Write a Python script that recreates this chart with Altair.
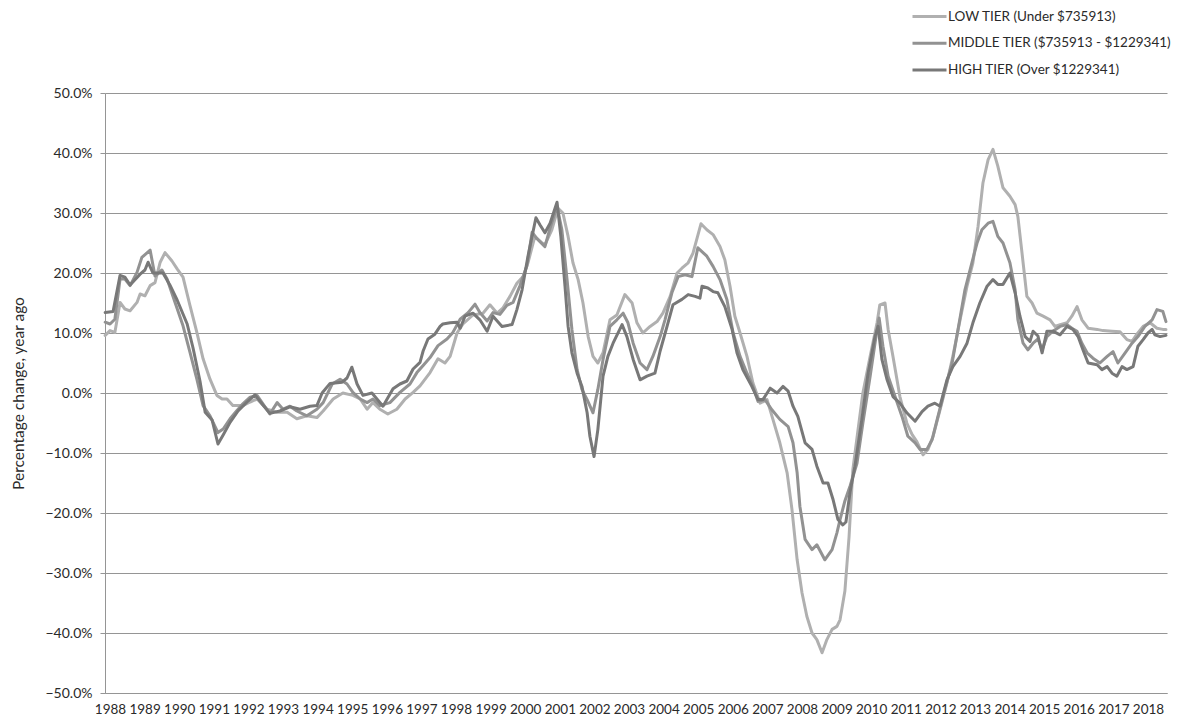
import altair as alt
import pandas as pd

tiers = [
    "LOW TIER (Under $735913)",
    "MIDDLE TIER ($735913 - $1229341)",
    "HIGH TIER (Over $1229341)",
]
tier_colors = ["#b0b0b0", "#929292", "#787878"]

low_year = [1987.86, 1988.00, 1988.14, 1988.29, 1988.43, 1988.58, 1988.78, 1988.87, 1989.01, 1989.16, 1989.30, 1989.45, 1989.59, 1989.79, 1989.94, 1990.11, 1990.31, 1990.51, 1990.69, 1990.89, 1991.09, 1991.24, 1991.38, 1991.55, 1991.84, 1992.05, 1992.25, 1992.54, 1992.83, 1993.12, 1993.40, 1993.69, 1993.98, 1994.16, 1994.45, 1994.73, 1995.02, 1995.23, 1995.43, 1995.60, 1995.80, 1996.03, 1996.29, 1996.53, 1996.76, 1996.96, 1997.25, 1997.48, 1997.68, 1997.83, 1998.03, 1998.20, 1998.49, 1998.78, 1998.98, 1999.19, 1999.36, 1999.56, 1999.76, 1999.94, 2000.08, 2000.28, 2000.49, 2000.57, 2000.77, 2000.95, 2001.09, 2001.24, 2001.38, 2001.53, 2001.67, 2001.82, 2001.96, 2002.10, 2002.25, 2002.45, 2002.65, 2002.88, 2003.09, 2003.23, 2003.40, 2003.61, 2003.81, 2003.98, 2004.19, 2004.39, 2004.53, 2004.71, 2004.85, 2005.08, 2005.25, 2005.43, 2005.63, 2005.77, 2005.92, 2006.06, 2006.21, 2006.41, 2006.58, 2006.79, 2006.99, 2007.16, 2007.36, 2007.57, 2007.71, 2007.86, 2008.00, 2008.14, 2008.29, 2008.43, 2008.58, 2008.72, 2008.87, 2009.01, 2009.10, 2009.24, 2009.36, 2009.47, 2009.62, 2009.76, 2009.97, 2010.17, 2010.25, 2010.40, 2010.49, 2010.63, 2010.83, 2011.03, 2011.18, 2011.32, 2011.50, 2011.64, 2011.79, 2011.99, 2012.19, 2012.36, 2012.57, 2012.77, 2012.94, 2013.09, 2013.23, 2013.38, 2013.52, 2013.66, 2013.81, 2014.01, 2014.16, 2014.24, 2014.36, 2014.50, 2014.65, 2014.79, 2014.97, 2015.17, 2015.31, 2015.46, 2015.66, 2015.80, 2015.95, 2016.09, 2016.27, 2016.53, 2016.70, 2016.96, 2017.19, 2017.39, 2017.54, 2017.68, 2017.86, 2018.06, 2018.26, 2018.43, 2018.52]
low_val = [9.6, 10.4, 10.1, 15.1, 14.0, 13.7, 15.1, 16.5, 16.2, 17.9, 18.4, 21.8, 23.4, 22.0, 20.7, 19.3, 14.6, 10.1, 5.7, 2.3, -0.4, -1.0, -1.0, -2.1, -2.1, -1.5, -1.0, -2.7, -3.2, -3.2, -4.3, -3.8, -4.1, -3.0, -1.0, 0.0, -0.4, -1.0, -2.7, -1.6, -2.7, -3.5, -2.7, -1.0, 0.1, 1.2, 3.4, 5.7, 5.0, 6.1, 10.0, 11.5, 13.0, 13.3, 14.7, 13.3, 14.2, 16.1, 18.3, 19.4, 21.7, 26.1, 25.0, 24.7, 27.2, 30.8, 30.0, 26.1, 21.7, 18.9, 15.0, 9.4, 6.1, 5.0, 6.7, 12.2, 13.0, 16.4, 15.0, 11.7, 10.0, 11.1, 11.9, 13.3, 16.1, 20.0, 20.8, 21.7, 23.3, 28.2, 27.2, 26.4, 24.4, 22.2, 17.8, 12.8, 10.0, 6.1, 1.7, -1.7, -1.1, -4.4, -8.3, -13.3, -19.4, -27.8, -33.3, -37.2, -40.0, -41.1, -43.3, -41.1, -39.4, -38.9, -37.8, -33.0, -24.0, -12.8, -6.1, 0.0, 6.1, 11.7, 14.7, 15.0, 10.6, 6.1, -0.6, -5.0, -6.9, -8.1, -10.3, -9.4, -7.2, -2.8, 1.7, 6.1, 12.2, 17.8, 21.7, 27.8, 35.0, 38.9, 40.6, 37.8, 34.2, 32.8, 31.4, 29.4, 23.3, 16.1, 15.0, 13.3, 12.8, 12.2, 11.1, 11.4, 11.7, 12.8, 14.4, 12.2, 10.8, 10.6, 10.4, 10.3, 10.2, 8.9, 8.6, 9.8, 11.1, 11.7, 10.8, 10.6, 10.6]

mid_year = [1987.86, 1988.00, 1988.14, 1988.29, 1988.43, 1988.58, 1988.78, 1988.92, 1989.16, 1989.30, 1989.50, 1989.65, 1989.88, 1990.11, 1990.31, 1990.51, 1990.69, 1990.89, 1991.12, 1991.27, 1991.47, 1991.67, 1991.84, 1992.05, 1992.25, 1992.42, 1992.62, 1992.83, 1993.00, 1993.20, 1993.40, 1993.69, 1993.98, 1994.16, 1994.42, 1994.65, 1994.85, 1995.02, 1995.23, 1995.43, 1995.60, 1995.80, 1996.09, 1996.38, 1996.67, 1996.87, 1997.05, 1997.25, 1997.48, 1997.74, 1997.91, 1998.12, 1998.35, 1998.55, 1998.69, 1998.90, 1999.07, 1999.27, 1999.47, 1999.65, 1999.85, 2000.05, 2000.20, 2000.34, 2000.57, 2000.72, 2000.92, 2001.06, 2001.21, 2001.35, 2001.50, 2001.64, 2001.79, 2001.96, 2002.10, 2002.25, 2002.45, 2002.65, 2002.83, 2002.97, 2003.12, 2003.32, 2003.52, 2003.69, 2003.90, 2004.04, 2004.24, 2004.42, 2004.62, 2004.82, 2004.99, 2005.25, 2005.43, 2005.63, 2005.83, 2006.01, 2006.21, 2006.41, 2006.58, 2006.73, 2006.93, 2007.13, 2007.36, 2007.60, 2007.74, 2007.86, 2007.94, 2008.09, 2008.29, 2008.43, 2008.66, 2008.87, 2009.01, 2009.10, 2009.24, 2009.39, 2009.59, 2009.76, 2009.97, 2010.17, 2010.23, 2010.34, 2010.49, 2010.69, 2010.89, 2011.06, 2011.27, 2011.41, 2011.61, 2011.76, 2011.93, 2012.13, 2012.34, 2012.51, 2012.71, 2012.91, 2013.06, 2013.20, 2013.38, 2013.52, 2013.66, 2013.81, 2014.01, 2014.16, 2014.24, 2014.39, 2014.53, 2014.68, 2014.82, 2014.94, 2015.08, 2015.25, 2015.46, 2015.66, 2015.80, 2015.95, 2016.09, 2016.24, 2016.41, 2016.61, 2016.82, 2016.99, 2017.13, 2017.34, 2017.54, 2017.71, 2017.91, 2018.12, 2018.26, 2018.43, 2018.52]
mid_val = [11.8, 11.5, 12.3, 19.0, 19.0, 17.9, 20.1, 22.6, 23.8, 19.5, 20.5, 19.0, 15.1, 11.2, 6.8, 2.3, -2.1, -3.8, -6.6, -6.0, -4.3, -2.9, -1.8, -0.7, -0.4, -1.8, -3.5, -1.6, -2.7, -2.2, -3.0, -3.8, -2.7, -1.6, 1.5, 2.3, 1.5, 0.1, -1.0, -1.6, -1.0, -2.1, -1.6, 0.1, 1.5, 3.4, 4.6, 5.9, 7.9, 9.0, 10.1, 12.3, 13.4, 14.8, 13.4, 12.0, 13.4, 13.1, 14.6, 15.1, 17.9, 21.2, 26.8, 25.7, 24.4, 27.5, 31.1, 27.2, 18.9, 10.6, 3.9, 0.6, -1.1, -3.3, 0.6, 5.6, 11.1, 12.2, 13.3, 11.7, 8.3, 5.0, 3.9, 6.1, 9.4, 12.2, 16.7, 19.4, 19.7, 19.4, 24.2, 22.8, 21.1, 18.9, 15.6, 10.0, 6.1, 3.3, 1.1, -1.4, -1.1, -2.8, -4.4, -5.6, -8.3, -13.3, -18.9, -24.4, -26.1, -25.3, -27.8, -26.1, -23.3, -21.1, -18.0, -15.5, -11.7, -5.0, 2.8, 10.6, 12.5, 7.8, 2.8, -0.6, -3.9, -7.2, -8.3, -9.4, -9.4, -7.8, -3.9, 0.6, 5.0, 10.6, 17.2, 21.7, 25.0, 27.2, 28.3, 28.6, 26.1, 25.0, 21.7, 17.2, 12.2, 8.3, 7.2, 8.3, 9.0, 7.2, 9.4, 10.3, 11.1, 11.4, 10.8, 10.3, 8.3, 6.7, 5.8, 5.0, 6.1, 6.9, 5.0, 6.7, 8.3, 9.4, 11.1, 12.2, 13.9, 13.6, 11.9]

high_year = [1987.86, 1988.09, 1988.29, 1988.43, 1988.58, 1988.87, 1989.01, 1989.10, 1989.24, 1989.53, 1989.73, 1989.94, 1990.23, 1990.40, 1990.60, 1990.75, 1990.95, 1991.12, 1991.27, 1991.47, 1991.70, 1991.96, 1992.19, 1992.42, 1992.62, 1992.91, 1993.20, 1993.49, 1993.78, 1993.98, 1994.13, 1994.36, 1994.71, 1994.85, 1994.99, 1995.14, 1995.31, 1995.57, 1995.89, 1996.01, 1996.18, 1996.38, 1996.58, 1996.76, 1996.96, 1997.05, 1997.19, 1997.39, 1997.54, 1997.62, 1997.83, 1998.03, 1998.12, 1998.26, 1998.49, 1998.69, 1998.90, 1999.07, 1999.33, 1999.62, 1999.76, 1999.91, 2000.08, 2000.31, 2000.43, 2000.57, 2000.72, 2000.92, 2001.03, 2001.15, 2001.24, 2001.35, 2001.50, 2001.64, 2001.79, 2001.87, 2001.99, 2002.10, 2002.25, 2002.39, 2002.54, 2002.80, 2002.94, 2003.12, 2003.32, 2003.52, 2003.75, 2003.90, 2004.10, 2004.27, 2004.53, 2004.71, 2004.91, 2005.05, 2005.11, 2005.28, 2005.43, 2005.57, 2005.77, 2005.98, 2006.12, 2006.29, 2006.55, 2006.73, 2006.87, 2007.08, 2007.28, 2007.45, 2007.60, 2007.74, 2007.88, 2008.09, 2008.29, 2008.43, 2008.61, 2008.75, 2008.90, 2009.04, 2009.18, 2009.27, 2009.39, 2009.53, 2009.73, 2009.91, 2010.11, 2010.20, 2010.31, 2010.46, 2010.63, 2010.83, 2011.03, 2011.27, 2011.47, 2011.64, 2011.84, 2011.99, 2012.19, 2012.36, 2012.57, 2012.77, 2012.94, 2013.14, 2013.35, 2013.52, 2013.66, 2013.81, 2014.01, 2014.16, 2014.30, 2014.45, 2014.59, 2014.68, 2014.82, 2014.94, 2015.08, 2015.25, 2015.46, 2015.66, 2015.83, 2015.98, 2016.12, 2016.27, 2016.53, 2016.67, 2016.82, 2016.96, 2017.10, 2017.25, 2017.39, 2017.57, 2017.71, 2017.86, 2018.00, 2018.12, 2018.20, 2018.35, 2018.52]
high_val = [13.4, 13.6, 19.6, 19.3, 18.0, 19.8, 20.5, 21.8, 20.0, 20.0, 18.0, 15.5, 11.5, 7.5, 2.0, -3.2, -4.5, -8.5, -7.0, -4.9, -3.0, -1.5, -0.3, -2.0, -3.4, -3.0, -2.3, -2.7, -2.2, -2.1, 0.0, 1.6, 1.8, 2.5, 4.3, 1.5, -0.4, 0.0, -2.2, -1.0, 0.7, 1.5, 2.0, 4.0, 5.1, 7.0, 9.0, 9.8, 11.1, 11.5, 11.7, 11.8, 10.8, 12.8, 13.3, 12.2, 10.3, 12.8, 11.1, 11.4, 13.9, 17.2, 22.8, 29.2, 28.0, 26.7, 28.3, 31.8, 26.1, 17.8, 11.1, 6.7, 3.3, 1.1, -3.3, -7.2, -10.6, -6.1, 2.8, 6.1, 8.3, 11.4, 9.4, 5.6, 2.2, 2.8, 3.3, 7.0, 11.1, 14.7, 15.6, 16.4, 16.1, 15.8, 17.8, 17.5, 16.9, 16.7, 14.4, 10.6, 6.7, 3.9, 1.1, -1.1, -1.1, 0.8, 0.0, 1.1, 0.3, -2.2, -3.9, -8.3, -9.4, -12.2, -15.0, -15.0, -17.8, -21.1, -22.0, -21.5, -16.5, -12.2, -4.4, 3.3, 9.4, 11.1, 5.6, 2.2, -0.6, -1.7, -3.3, -4.7, -3.1, -2.2, -1.7, -2.2, 2.2, 4.4, 6.1, 8.3, 11.7, 15.0, 17.8, 18.9, 18.1, 18.1, 20.0, 16.7, 12.8, 9.4, 8.6, 10.3, 9.5, 6.7, 10.3, 10.3, 9.7, 11.1, 10.6, 9.4, 7.2, 5.0, 4.7, 3.9, 4.4, 3.3, 2.8, 4.4, 3.9, 4.4, 7.8, 8.9, 10.0, 10.6, 9.7, 9.4, 9.6]

year_ticks = list(range(1988, 2019))
pct_ticks = list(range(-50, 51, 10))

rows = []
for name, ys, vs in [(tiers[0], low_year, low_val), (tiers[1], mid_year, mid_val), (tiers[2], high_year, high_val)]:
    for y, v in zip(ys, vs):
        rows.append({"year": y, "value": v, "tier": name})
df = pd.DataFrame(rows)

grid_col = "#959595"
text_col = "#2a2a2a"

chart = alt.Chart(df).mark_line(strokeWidth=3, strokeJoin="round", strokeCap="round").encode(
    x=alt.X(
        "year:Q",
        scale=alt.Scale(domain=[1987.855, 2018.55], nice=False, zero=False),
        axis=alt.Axis(
            values=year_ticks, format="d", title=None, grid=False, ticks=False,
            labelPadding=9, labelFontSize=13.5, labelColor=text_col,
            domainColor=grid_col, domainWidth=1, labelFlush=False, labelOverlap=False,
        ),
    ),
    y=alt.Y(
        "value:Q",
        scale=alt.Scale(domain=[-50, 50], nice=False),
        axis=alt.Axis(
            values=pct_ticks, labelExpr="format(datum.value, '.1f') + '%'",
            title="Percentage change, year ago", titleFontSize=15.5, titleFontWeight="normal",
            titleColor=text_col, titleX=-87, titleY=300, titleAngle=270,
            titleAlign="center", titleBaseline="middle",
            grid=True, gridColor=grid_col, gridWidth=1,
            tickColor=grid_col, tickSize=5, labelPadding=8, labelFontSize=14,
            labelColor=text_col, domainColor=grid_col, domainWidth=1,
        ),
    ),
    color=alt.Color(
        "tier:N",
        scale=alt.Scale(domain=tiers, range=tier_colors),
        legend=alt.Legend(
            title=None, orient="none", legendX=806, legendY=-83.5,
            symbolType="stroke", symbolSize=1156, symbolStrokeWidth=3,
            clipHeight=14, rowPadding=12.7, labelFontSize=13.5, labelColor=text_col,
            labelOffset=0, padding=0, labelLimit=400,
        ),
    ),
).properties(
    width=1062,
    height=600,
    autosize=alt.AutoSizeParams(type="none"),
    padding={"left": 97, "top": 85, "right": 14, "bottom": 22},
).configure(
    font="Lato",
).configure_view(
    stroke=None,
)

chart.save("out.html", embed_options={"renderer": "svg", "actions": False})
